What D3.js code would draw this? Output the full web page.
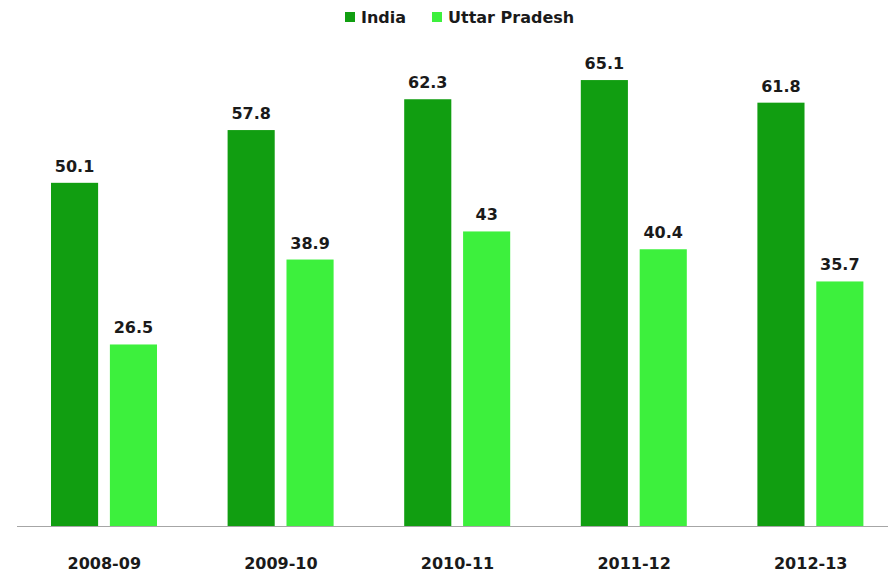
<!DOCTYPE html>
<meta charset="utf-8">
<script src="https://d3js.org/d3.v7.min.js"></script>
<style>
  body { margin: 0; background: #fff; }
  text { font-family: "DejaVu Sans", Verdana, sans-serif; font-weight: bold; }
</style>
<div id="chart"></div>
<script>
  // data
  const years = ["2008-09", "2009-10", "2010-11", "2011-12", "2012-13"];
  const seriesNames = ["India", "Uttar Pradesh"];
  const india = [50.1, 57.8, 62.3, 65.1, 61.8];
  const uttarPradesh = [26.5, 38.9, 43, 40.4, 35.7];
  const colors = ["#119e11", "#3df03d"];

  const width = 888, height = 575;
  const baseY = 526;

  const svg = d3.select("#chart")
    .append("svg")
      .attr("width", width)
      .attr("height", height);

  // group scale
  const x0 = d3.scaleBand()
    .domain(years)
    .range([16, 899]);

  // bars inside a group
  const x1 = d3.scaleBand()
    .domain(seriesNames)
    .range([35, 141])
    .paddingInner(0.2);

  const y = d3.scaleLinear()
    .domain([0, 70])
    .range([baseY, baseY - 70 * 6.85]);

  const rows = years.map((yr, i) => ({
    year: yr,
    values: [
      {key: seriesNames[0], value: india[i]},
      {key: seriesNames[1], value: uttarPradesh[i]}
    ]
  }));

  const groups = svg.selectAll("g.group")
    .data(rows)
    .join("g")
      .attr("class", "group")
      .attr("transform", d => `translate(${x0(d.year)},0)`);

  groups.selectAll("rect")
    .data(d => d.values)
    .join("rect")
      .attr("x", d => x1(d.key))
      .attr("y", d => y(d.value))
      .attr("width", x1.bandwidth())
      .attr("height", d => y(0) - y(d.value))
      .attr("fill", (d, i) => colors[i]);

  // value labels
  groups.selectAll("text.val")
    .data(d => d.values)
    .join("text")
      .attr("class", "val")
      .attr("x", d => x1(d.key) + x1.bandwidth() / 2)
      .attr("y", d => y(d.value) - 11)
      .attr("text-anchor", "middle")
      .style("font-size", "16px")
      .style("fill", "#1a1a1a")
      .text(d => d.value);

  // x axis
  const xAxis = svg.append("g")
    .attr("transform", `translate(0,${baseY})`)
    .call(d3.axisBottom(x0).tickSize(0).tickPadding(32));
  xAxis.select(".domain").attr("stroke", "#a6a6a6").attr("d", `M17,0.5H888`);
  xAxis.selectAll("text")
    .style("font-size", "16px")
    .style("fill", "#1a1a1a");

  // legend
  const legend = svg.append("g");
  const legendX = [345, 432];
  seriesNames.forEach((name, i) => {
    legend.append("rect")
      .attr("x", legendX[i])
      .attr("y", 12)
      .attr("width", 10)
      .attr("height", 10)
      .attr("fill", colors[i]);
    legend.append("text")
      .attr("x", legendX[i] + 16)
      .attr("y", 23)
      .style("font-size", "16px")
      .style("fill", "#1a1a1a")
      .text(name);
  });
</script>
